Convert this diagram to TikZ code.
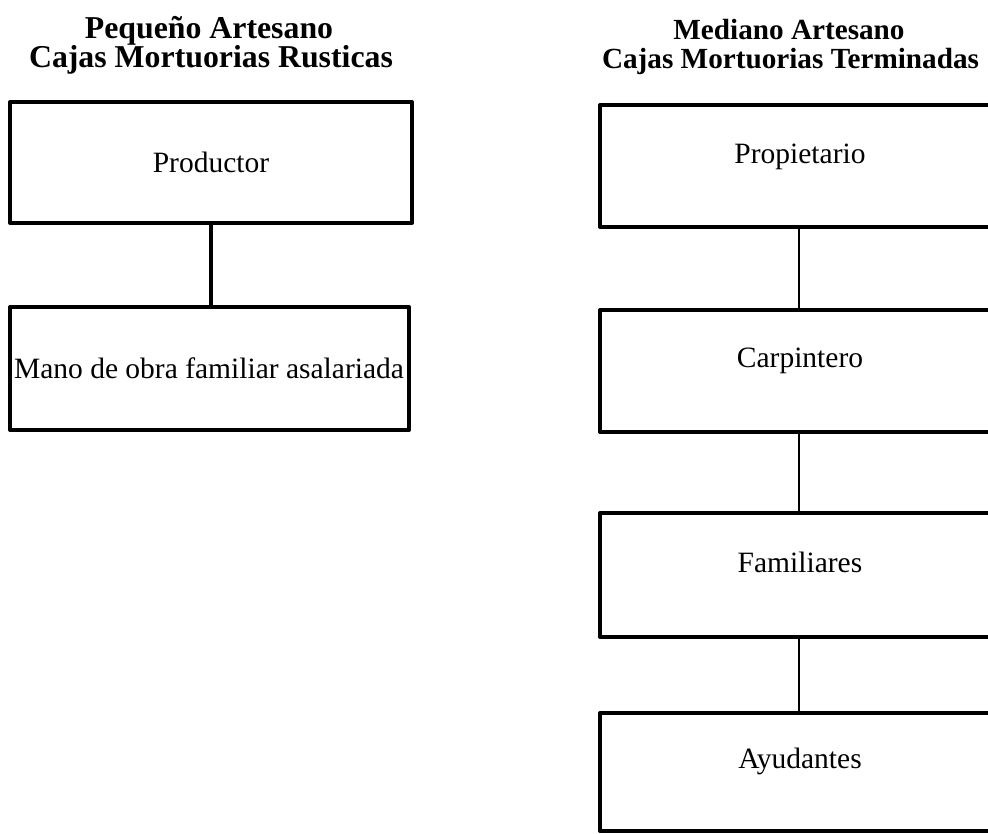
\documentclass[tikz,border=0pt]{standalone}
\usepackage{fontspec}
\setmainfont{Liberation Serif}
\begin{document}
\begin{tikzpicture}[x=1pt,y=-1pt,
  thickbox/.style={draw=black,line width=4pt,inner sep=0pt,line join=round},
  boxtext/.style={font=\fontsize{29.5}{30}\selectfont,anchor=base,inner sep=0pt},
  titleleft/.style={font=\bfseries\fontsize{31.8}{32}\selectfont,anchor=base,inner sep=0pt},
  titleright/.style={font=\bfseries\fontsize{29.2}{30}\selectfont,anchor=base,inner sep=0pt},
  thickline/.style={line width=4pt},
  thinline/.style={line width=1.5pt}]
\useasboundingbox (0,0) rectangle (988,833);
% titles
\node[titleleft] (t1a) at (209,38) {Pequeño Artesano};
\node[titleleft] (t1b) at (211,67) {Cajas Mortuorias Rusticas};
\node[titleright] (t2a) at (789,39) {Mediano Artesano};
\node[titleright] (t2b) at (790.5,68) {Cajas Mortuorias Terminadas};
% left column
\node[thickbox,minimum width=402pt,minimum height=121pt] (prod) at (211,162.5) {};
\node[thickbox,minimum width=399pt,minimum height=123pt] (mano) at (209.5,368.5) {};
\node[boxtext] (prodt) at (211,172) {Productor};
\node[boxtext] (manot) at (209,378) {Mano de obra familiar asalariada};
\draw[thickline] (prod.south -| 211,0) -- (mano.north -| 211,0);
% right column
\node[thickbox,minimum width=400pt,minimum height=122pt] (prop) at (800,166) {};
\node[thickbox,minimum width=400pt,minimum height=122pt] (carp) at (800,371) {};
\node[thickbox,minimum width=400pt,minimum height=124pt] (fam) at (800,575) {};
\node[thickbox,minimum width=400pt,minimum height=118pt] (ayu) at (800,772) {};
\node[boxtext] (propt) at (800,163) {Propietario};
\node[boxtext] (carpt) at (800,367) {Carpintero};
\node[boxtext] (famt) at (800,572) {Familiares};
\node[boxtext] (ayut) at (800,768) {Ayudantes};
\draw[thinline] (prop.south -| 799,0) -- (carp.north -| 799,0);
\draw[thinline] (carp.south -| 799,0) -- (fam.north -| 799,0);
\draw[thinline] (fam.south -| 799,0) -- (ayu.north -| 799,0);
\end{tikzpicture}
\end{document}
